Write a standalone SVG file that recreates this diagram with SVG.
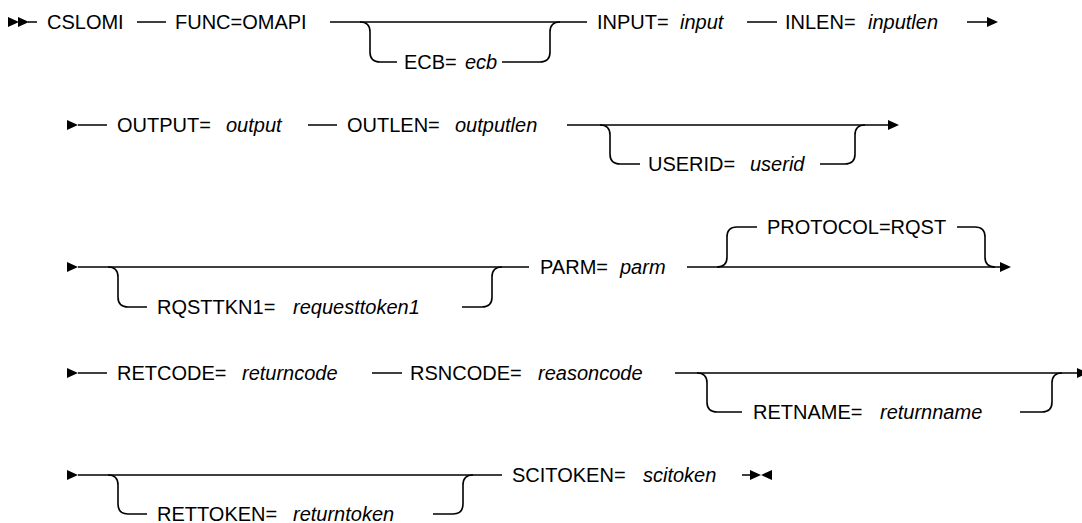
<svg xmlns="http://www.w3.org/2000/svg" width="1082" height="523" viewBox="0 0 1082 523">
<style>
.k{font-family:"Liberation Sans",Arial,sans-serif;font-size:20px;fill:#000}
.v{font-style:italic}
.ln{fill:none;stroke:#000;stroke-width:1.6}
.ah{fill:#000}
</style>
<defs>
<path id="ar" class="ah" d="M0,-5 L11,0 L0,5 Z"/>
<path id="al" class="ah" d="M0,-5 L-11,0 L0,5 Z"/>
</defs>
<rect width="1082" height="523" fill="#fff"/>
<g id="connectors">
<!-- row 1 -->
<use href="#ar" x="8" y="22"/><use href="#ar" x="18" y="22"/>
<path class="ln" d="M28,22 H37 M137,22 H166 M330,22 H587"/>
<path class="ln" d="M360,22 Q370,22 370,32 V52 Q370,62 380,62 H397 M502,62 H540 Q550,62 550,52 V32 Q550,22 560,22"/>
<path class="ln" d="M747,22 H777 M967,22 H988"/>
<use href="#ar" x="987" y="22"/>
<!-- row 2 -->
<use href="#ar" x="67" y="125"/>
<path class="ln" d="M78,125 H107 M308,125 H337 M567,125 H889"/>
<path class="ln" d="M600,125 Q610,125 610,135 V154 Q610,164 620,164 H640 M820,164 H845 Q855,164 855,154 V135 Q855,125 865,125"/>
<use href="#ar" x="888" y="125"/>
<!-- row 3 -->
<use href="#ar" x="67" y="267"/>
<path class="ln" d="M78,267 H529 M687,267 H1001"/>
<path class="ln" d="M108,267 Q118,267 118,277 V297 Q118,307 128,307 H147 M462,307 H482 Q492,307 492,297 V277 Q492,267 502,267"/>
<path class="ln" d="M717,267 Q727,267 727,257 V237 Q727,227 737,227 H757 M957,227 H975 Q985,227 985,237 V257 Q985,267 995,267"/>
<use href="#ar" x="1000" y="267"/>
<!-- row 4 -->
<use href="#ar" x="67" y="373"/>
<path class="ln" d="M78,373 H107 M372,373 H402 M675,373 H1078"/>
<path class="ln" d="M697,373 Q707,373 707,383 V402 Q707,412 717,412 H742 M1020,412 H1042 Q1052,412 1052,402 V383 Q1052,373 1062,373"/>
<use href="#ar" x="1077" y="373"/>
<!-- row 5 -->
<use href="#ar" x="67" y="475"/>
<path class="ln" d="M78,475 H502 M742,475 H751"/>
<path class="ln" d="M108,475 Q118,475 118,485 V504 Q118,514 128,514 H147 M433,514 H453 Q463,514 463,504 V485 Q463,475 473,475"/>
<use href="#ar" x="750" y="475"/><use href="#al" x="772" y="475"/>
</g>
<g id="n-cslomi"><text class="k" x="47" y="29">CSLOMI</text></g>
<g id="n-func"><text class="k" x="175" y="29">FUNC=OMAPI</text></g>
<g id="n-ecb"><text class="k" x="404" y="69">ECB=</text><text class="k v" x="465" y="69">ecb</text></g>
<g id="n-input"><text class="k" x="597" y="29">INPUT=</text><text class="k v" x="680" y="29">input</text></g>
<g id="n-inlen"><text class="k" x="785" y="29">INLEN=</text><text class="k v" x="868" y="29">inputlen</text></g>
<g id="n-output"><text class="k" x="117" y="132">OUTPUT=</text><text class="k v" x="226" y="132">output</text></g>
<g id="n-outlen"><text class="k" x="347" y="132">OUTLEN=</text><text class="k v" x="455" y="132">outputlen</text></g>
<g id="n-userid"><text class="k" x="648" y="171">USERID=</text><text class="k v" x="750" y="171">userid</text></g>
<g id="n-rqsttkn1"><text class="k" x="157" y="314">RQSTTKN1=</text><text class="k v" x="293" y="314">requesttoken1</text></g>
<g id="n-parm"><text class="k" x="540" y="274">PARM=</text><text class="k v" x="620" y="274">parm</text></g>
<g id="n-protocol"><text class="k" x="767" y="234">PROTOCOL=RQST</text></g>
<g id="n-retcode"><text class="k" x="117" y="380">RETCODE=</text><text class="k v" x="242" y="380">returncode</text></g>
<g id="n-rsncode"><text class="k" x="410" y="380">RSNCODE=</text><text class="k v" x="538" y="380">reasoncode</text></g>
<g id="n-retname"><text class="k" x="753" y="419">RETNAME=</text><text class="k v" x="880" y="419">returnname</text></g>
<g id="n-rettoken"><text class="k" x="157" y="521">RETTOKEN=</text><text class="k v" x="293" y="521">returntoken</text></g>
<g id="n-scitoken"><text class="k" x="512" y="482">SCITOKEN=</text><text class="k v" x="643" y="482">scitoken</text></g>
</svg>
